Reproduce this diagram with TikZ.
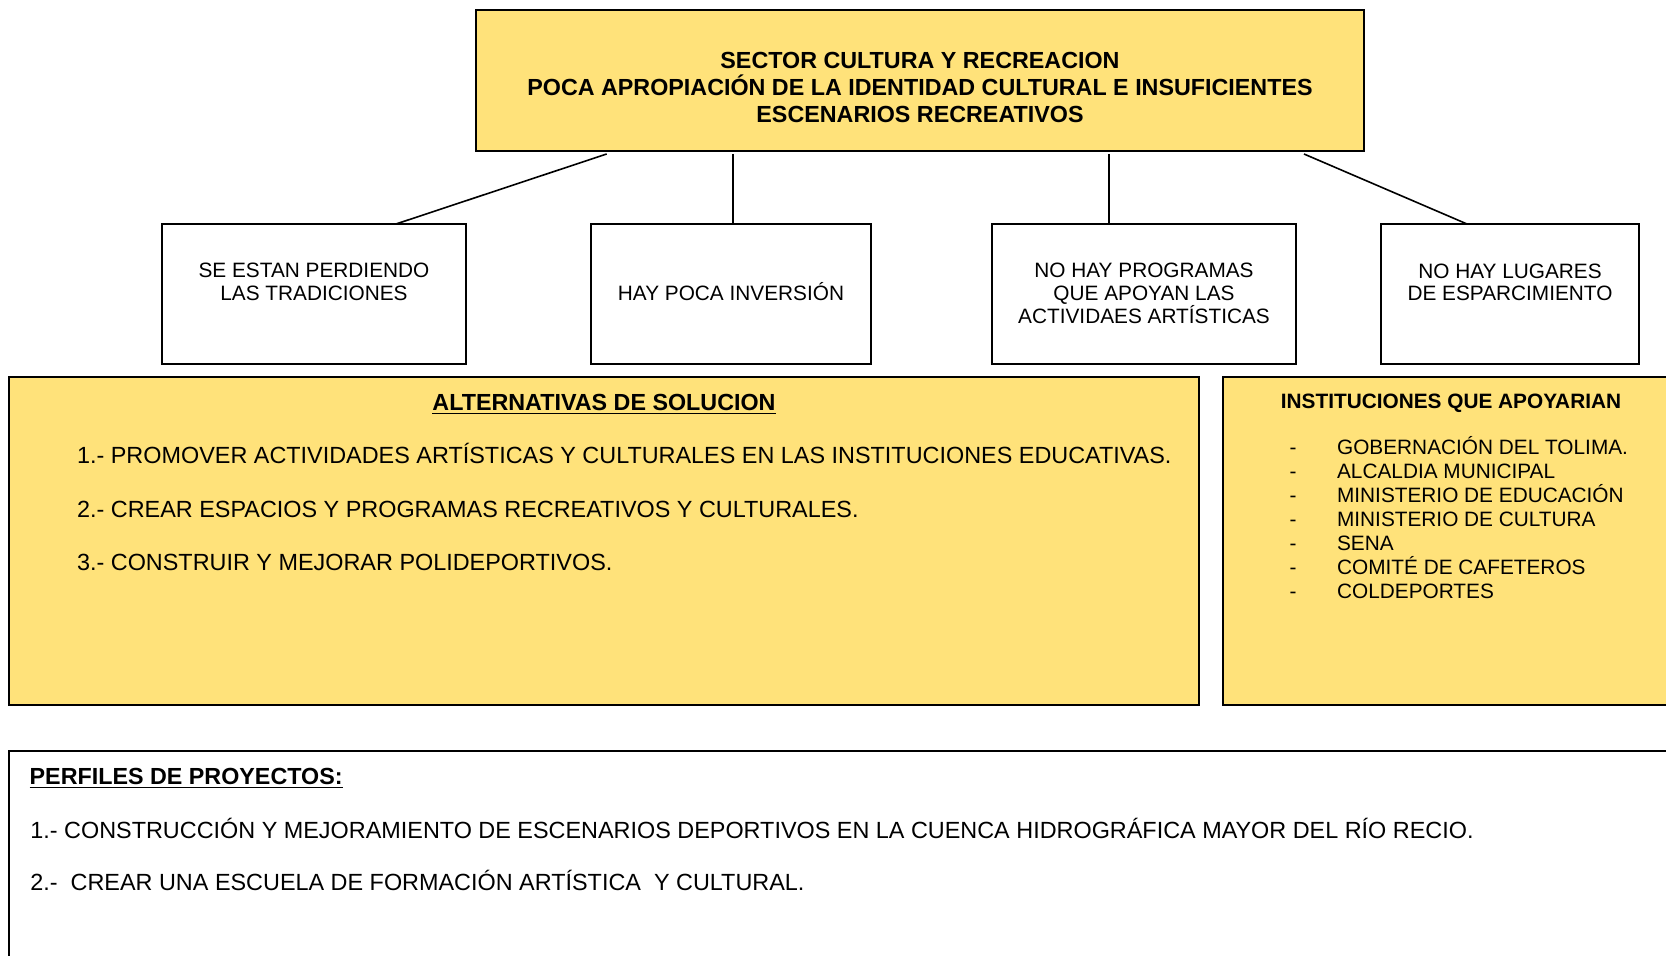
\documentclass[tikz,border=0pt]{standalone}
\usepackage{fontspec}
\setmainfont{Liberation Sans}
\usetikzlibrary{calc}
\definecolor{boxyellow}{RGB}{255,226,122}
\tikzset{
  frame/.style={draw=black, line width=1pt, inner sep=0pt, outer sep=0pt, anchor=north west},
  yframe/.style={frame, fill=boxyellow},
  conn/.style={draw=black, line width=0.8pt},
  bigtxt/.style={font=\fontsize{11.7}{14}\selectfont, inner sep=0pt, anchor=base},
  bigbold/.style={font=\fontsize{11.65}{14}\selectfont\bfseries, inner sep=0pt, anchor=base},
  smalltxt/.style={font=\fontsize{10.4}{12}\selectfont, inner sep=0pt, anchor=base},
  smallbold/.style={font=\fontsize{10.4}{12}\selectfont\bfseries, inner sep=0pt, anchor=base},
}
\begin{document}
\begin{tikzpicture}[x=0.5pt, y=-0.5pt]
\useasboundingbox (0,0) rectangle (1666,956);
\clip (0,0) rectangle (1666,956);
\fill[white] (0,0) rectangle (1666,956);

% top box
\node[yframe, minimum width=444pt, minimum height=70.5pt] (top) at (476,10) {};
\node[bigbold] (t1) at (920,69) {SECTOR CULTURA Y RECREACION};
\node[bigbold] (t2) at (920,96) {POCA APROPIACIÓN DE LA IDENTIDAD CULTURAL E INSUFICIENTES};
\node[bigbold] (t3) at (920,123) {ESCENARIOS RECREATIVOS};

% cause boxes
\node[frame, minimum width=152pt, minimum height=70pt] (b1) at (162,224) {};
\node[frame, minimum width=140pt, minimum height=70pt] (b2) at (591,224) {};
\node[frame, minimum width=152pt, minimum height=70pt] (b3) at (992,224) {};
\node[frame, minimum width=129pt, minimum height=70pt] (b4) at (1381,224) {};

\node[smalltxt] (b1a) at (314,278) {SE ESTAN PERDIENDO};
\node[smalltxt] (b1b) at (314,301) {LAS TRADICIONES};
\node[smalltxt] (b2a) at (731,301) {HAY POCA INVERSIÓN};
\node[smalltxt] (b3a) at (1144,278) {NO HAY PROGRAMAS};
\node[smalltxt] (b3b) at (1144,301) {QUE APOYAN LAS};
\node[smalltxt] (b3c) at (1144,324) {ACTIVIDAES ARTÍSTICAS};
\node[smalltxt] (b4a) at (1510,279) {NO HAY LUGARES};
\node[smalltxt] (b4b) at (1510,301) {DE ESPARCIMIENTO};

% connectors
\coordinate (s1) at ($(top.south west)+(130.7,3)$);
\coordinate (e1) at ($(b1.north west)+(234,0)$);
\coordinate (s2) at ($(top.south west)+(257,3)$);
\coordinate (e2) at ($(b2.north west)+(142,0)$);
\coordinate (s3) at ($(top.south west)+(633,3)$);
\coordinate (e3) at ($(b3.north west)+(117,0)$);
\coordinate (s4) at ($(top.south west)+(828,3)$);
\coordinate (e4) at ($(b4.north west)+(86,0)$);
\draw[conn] (s1) -- (e1);
\draw[conn] (s2) -- (e2);
\draw[conn] (s3) -- (e3);
\draw[conn] (s4) -- (e4);

% alternatives box
\node[yframe, minimum width=595pt, minimum height=163.75pt] (alt) at (9,377.5) {};
\node[bigbold] (altt) at (604,410.7) {\underline{ALTERNATIVAS DE SOLUCION}};
\node[bigtxt, anchor=base west] (a1) at (76.7,464) {1.- PROMOVER ACTIVIDADES ARTÍSTICAS Y CULTURALES EN LAS INSTITUCIONES EDUCATIVAS.};
\node[bigtxt, anchor=base west] (a2) at (76.7,517.7) {2.- CREAR ESPACIOS Y PROGRAMAS RECREATIVOS Y CULTURALES.};
\node[bigtxt, anchor=base west] (a3) at (76.7,571) {3.- CONSTRUIR Y MEJORAR POLIDEPORTIVOS.};

% institutions box
\node[yframe, minimum width=228pt, minimum height=163.75pt] (inst) at (1223,377.5) {};
\node[smallbold] (instt) at (1451,408.3) {INSTITUCIONES QUE APOYARIAN};
\foreach \y/\t [count=\i] in {455/GOBERNACIÓN DEL TOLIMA., 479/ALCALDIA MUNICIPAL, 503/MINISTERIO DE EDUCACIÓN, 527/MINISTERIO DE CULTURA, 551/SENA, 575/COMITÉ DE CAFETEROS, 599/COLDEPORTES}{
  \node[smalltxt] (d\i) at (1293,\y) {-};
  \node[smalltxt, anchor=base west] (i\i) at (1336.7,\y) {\t};
}

% profiles box
\node[frame, minimum width=850pt, minimum height=150pt] (perf) at (9,751.5) {};
\node[bigbold, anchor=base west] (pt) at (29.3,784) {\underline{PERFILES DE PROYECTOS:}};
\node[bigtxt, anchor=base west] (p1) at (30,838.3) {1.- CONSTRUCCIÓN Y MEJORAMIENTO DE ESCENARIOS DEPORTIVOS EN LA CUENCA HIDROGRÁFICA MAYOR DEL RÍO RECIO.};
\node[bigtxt, anchor=base west] (p2) at (30,890.7) {2.- ~CREAR UNA ESCUELA DE FORMACIÓN ARTÍSTICA ~Y CULTURAL.};
\end{tikzpicture}
\end{document}
